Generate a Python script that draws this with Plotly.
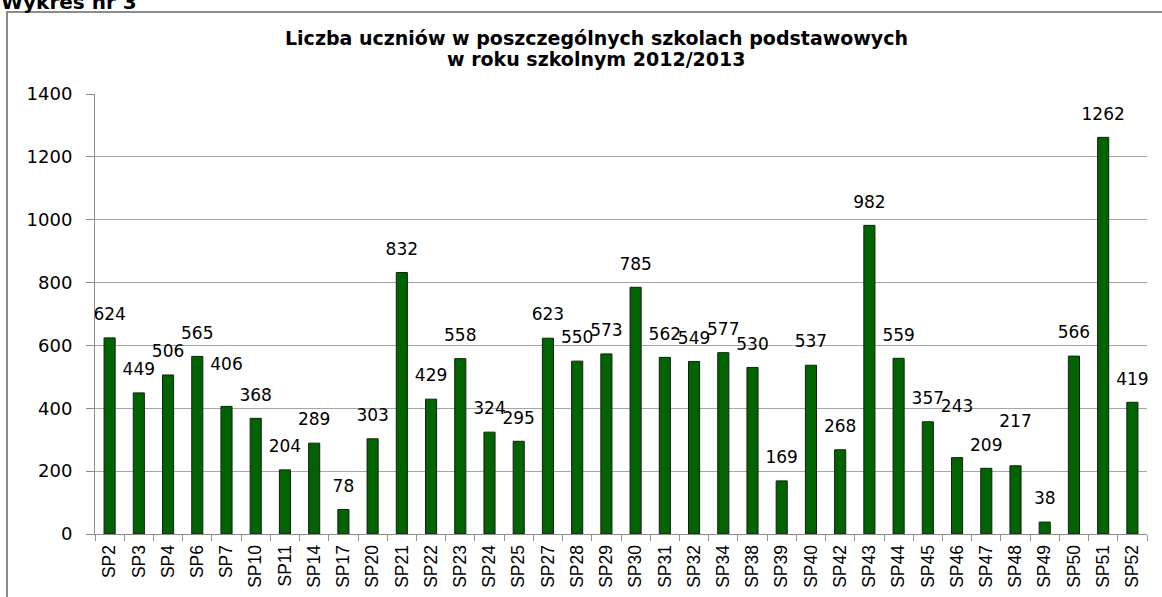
import plotly.graph_objects as go

categories = ["SP2", "SP3", "SP4", "SP6", "SP7", "SP10", "SP11", "SP14", "SP17", "SP20",
              "SP21", "SP22", "SP23", "SP24", "SP25", "SP27", "SP28", "SP29", "SP30", "SP31",
              "SP32", "SP34", "SP38", "SP39", "SP40", "SP42", "SP43", "SP44", "SP45", "SP46",
              "SP47", "SP48", "SP49", "SP50", "SP51", "SP52"]
students = [624, 449, 506, 565, 406, 368, 204, 289, 78, 303,
            832, 429, 558, 324, 295, 623, 550, 573, 785, 562,
            549, 577, 530, 169, 537, 268, 982, 559, 357, 243,
            209, 217, 38, 566, 1262, 419]
y_ticks = [0, 200, 400, 600, 800, 1000, 1200, 1400]

title_lines = ["Liczba uczniów w poszczególnych szkolach podstawowych",
               "w roku szkolnym 2012/2013"]
heading_text = "Wykres nr 3"

# labels lifted higher where they would collide with neighbours, as in the source chart
lifted_labels = {"SP7": 50, "SP46": 64, "SP48": 54}
label_gap_sizes = [lifted_labels.get(c, 20) for c in categories]

WIDE = "DejaVu Sans, Verdana, sans-serif"
NARROW = "Liberation Sans, Arial, sans-serif"

fig = go.Figure()
fig.add_trace(go.Bar(
    x=categories,
    y=students,
    marker=dict(color="#006400", line=dict(color="#1a1a1a", width=1)),
    hoverinfo="x+y",
))
# value labels above the bars (invisible anchor markers give the gap)
fig.add_trace(go.Scatter(
    x=categories,
    y=students,
    mode="markers+text",
    marker=dict(size=label_gap_sizes, opacity=0),
    text=students,
    textposition="top center",
    textfont=dict(family=WIDE, size=17, color="#000000"),
    cliponaxis=False,
    hoverinfo="skip",
))

W, H = 1162, 597
ml, mr, mt, mb = 95, W - 1147, 94, H - 534
pw, ph = W - ml - mr, H - mt - mb

fig.update_layout(
    width=W, height=H,
    margin=dict(l=ml, r=mr, t=mt, b=mb, pad=0, autoexpand=False),
    paper_bgcolor="white",
    plot_bgcolor="white",
    bargap=0.62,
    showlegend=False,
    font=dict(family=WIDE, size=18, color="#000000"),
    xaxis=dict(
        type="category",
        range=[-0.5, len(categories) - 0.5],
        tickangle=-90,
        showgrid=False,
        showline=True, linecolor="#8c8c8c", linewidth=1,
        ticks="outside", ticklen=6, tickcolor="#8c8c8c",
        tickson="boundaries",
        tickfont=dict(family=NARROW, size=17.5, color="#000000"),
        ticklabelstandoff=3,
    ),
    yaxis=dict(
        range=[0, 1400],
        tickvals=y_ticks,
        showgrid=True, gridcolor="#a6a6a6", gridwidth=1,
        showline=True, linecolor="#8c8c8c", linewidth=1,
        ticks="outside", ticklen=8, tickcolor="#8c8c8c",
        zeroline=False,
        tickfont=dict(family=WIDE, size=18, color="#000000"),
        ticklabelstandoff=10,
    ),
)

# outer chart frame
fig.add_shape(type="rect", xref="paper", yref="paper",
              x0=(7 - ml) / pw, x1=(1180 - ml) / pw,
              y0=-(mb + 20) / ph, y1=1 + (mt - 12) / ph,
              line=dict(color="#8c8c8c", width=2), fillcolor="rgba(0,0,0,0)", layer="below")

# chart title, two lines
for line, ypx in zip(title_lines, [38.5, 58.5]):
    fig.add_annotation(text="<b>" + line + "</b>", xref="paper", yref="paper",
                       x=(596 - ml) / pw, xanchor="center",
                       y=1 + (mt - ypx) / ph, yanchor="middle",
                       showarrow=False,
                       font=dict(family=WIDE, size=19, color="#000000"))

# heading above the frame (partly cut off at the page top, as in the source)
fig.add_annotation(text="<b>" + heading_text + "</b>", xref="paper", yref="paper",
                   x=(-1 - ml) / pw, xanchor="left",
                   y=1 + (mt - 2) / ph, yanchor="middle",
                   showarrow=False,
                   font=dict(family=WIDE, size=20, color="#000000"))

fig.write_html("out.html", config={"displayModeBar": False},
               post_script="document.body.style.margin='0';document.body.style.overflow='hidden';")
